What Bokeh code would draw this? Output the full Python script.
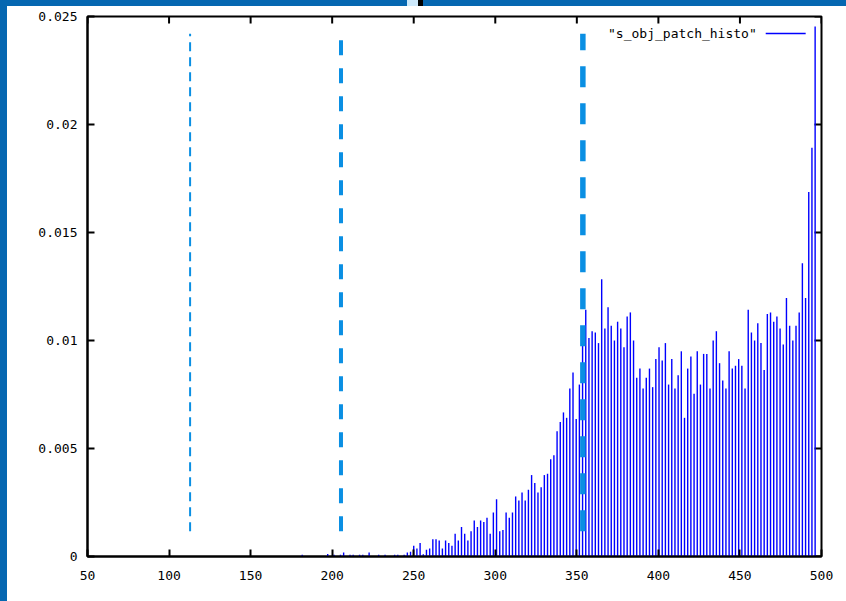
from bokeh.plotting import figure
from bokeh.models import Range1d, FixedTicker, Label, Div
from bokeh.layouts import column, row
from bokeh.embed import file_html
from bokeh.resources import INLINE

# ---------------- data ----------------
BIN_WIDTH = 500 / 256
bin_index = list(range(93, 255))
freq = [
    0.00008, 0, 0, 0, 0, 0, 0, 0,            # 93-100
    0.00012, 0, 0.00008, 0, 0.00008, 0.00019, 0, 0.00008, 0.00008, 0,   # 101-110
    0.00008, 0.00008, 0, 0.00019, 0, 0, 0.00008, 0, 0.00008, 0,         # 111-120
    0, 0.00008, 0.00008, 0, 0.00008, 0.00019, 0.00022, 0.0005, 0.00037, 0.00062,  # 121-130
    0.0001, 0.00031, 0.00037, 0.0008, 0.0008, 0.00074, 0.00037, 0.00074, 0.00062, 0.0005,  # 131-140
    0.00105, 0.00074, 0.00136, 0.00105, 0.00074, 0.00117, 0.00167, 0.00136, 0.00167, 0.0016,  # 141-150
    0.00179, 0.00105, 0.00204, 0.00265, 0.00117, 0.00123, 0.00204, 0.00179, 0.00204, 0.00278,  # 151-160
    0.00259, 0.00296, 0.00259, 0.00309, 0.00377, 0.0034, 0.00296, 0.00321, 0.00377, 0.00383,  # 161-170
    0.0045, 0.00469, 0.0058, 0.00623, 0.00667, 0.00642, 0.00778, 0.00852, 0.00636, 0.00796,  # 171-180
    0.00975, 0.01142, 0.01012, 0.01043, 0.01037, 0.00988, 0.01284, 0.01056, 0.01154, 0.01068,  # 181-190
    0.01, 0.01087, 0.01056, 0.00969, 0.01111, 0.0113, 0.01, 0.00827, 0.0087, 0.00778,  # 191-200
    0.00827, 0.0087, 0.00784, 0.00914, 0.00969, 0.00907, 0.00988, 0.00796, 0.00914, 0.00778,  # 201-210
    0.00839, 0.0095, 0.00642, 0.0087, 0.00926, 0.00753, 0.0095, 0.00796, 0.00938, 0.00938,  # 211-220
    0.00778, 0.01, 0.01043, 0.00895, 0.00815, 0.00778, 0.0095, 0.0087, 0.00883, 0.00914,  # 221-230
    0.00883, 0.00778, 0.01142, 0.01037, 0.01, 0.0108, 0.00988, 0.00864, 0.01123, 0.0113,  # 231-240
    0.01087, 0.01111, 0.01056, 0.00981, 0.01197, 0.01068, 0.01, 0.01068, 0.0113, 0.01358,  # 241-250
    0.01197, 0.01687, 0.01892, 0.02454,  # 251-254
]
bin_x = [k * BIN_WIDTH for k in bin_index]

thresholds = [112.9, 205.4, 353.7]
threshold_low = 0.00117
threshold_high = 0.0242

x_ticks = [50, 100, 150, 200, 250, 300, 350, 400, 450, 500]
y_ticks = [0, 0.005, 0.01, 0.015, 0.02, 0.025]
y_tick_labels = ["0", "0.005", "0.01", "0.015", "0.02", "0.025"]
series_name = '"s_obj_patch_histo"'

X_MIN, X_MAX = 50, 500
Y_MIN, Y_MAX = 0, 0.025

# ---------------- style ----------------
FRAME_BLUE = "#0567b1"
DASH_BLUE = "#0a8fe3"
BAR_BLUE = "#0000ff"
FONT = "DejaVu Sans Mono"
dash_widths = [2, 4, 5.5]
dash_patterns = ["9 6", "15 13", "21 16"]
TICK_PX = 7

FRAME_W, FRAME_H = 734, 540

p = figure(width=839, height=595, output_backend="svg", toolbar_location=None,
           x_range=Range1d(X_MIN, X_MAX), y_range=Range1d(Y_MIN, Y_MAX),
           min_border_left=80, min_border_right=25, min_border_top=10, min_border_bottom=45,
           background_fill_color="white", border_fill_color="white")
p.xgrid.visible = False
p.ygrid.visible = False
p.outline_line_color = "black"
p.outline_line_width = 2

def style_axis(ax, ticks):
    ax.ticker = FixedTicker(ticks=ticks)
    ax.major_tick_in = TICK_PX
    ax.major_tick_out = 0
    ax.minor_tick_line_color = None
    ax.major_tick_line_width = 2
    ax.major_tick_line_color = "black"
    ax.axis_line_width = 2
    ax.axis_line_color = "black"
    ax.major_label_text_font = FONT
    ax.major_label_text_font_size = "13px"
    ax.major_label_text_color = "black"

style_axis(p.xaxis[0], x_ticks)
p.xaxis[0].major_label_standoff = 14
style_axis(p.yaxis[0], y_ticks)
p.yaxis[0].major_label_standoff = 10
p.yaxis[0].major_label_overrides = {t: s for t, s in zip(y_ticks, y_tick_labels)}

# mirrored inward ticks on the top and right edges
dx = TICK_PX * (X_MAX - X_MIN) / FRAME_W
dy = TICK_PX * (Y_MAX - Y_MIN) / FRAME_H
p.segment(x0=x_ticks, y0=[Y_MAX] * len(x_ticks), x1=x_ticks, y1=[Y_MAX - dy] * len(x_ticks),
          line_color="black", line_width=2)
p.segment(x0=[X_MAX] * len(y_ticks), y0=y_ticks, x1=[X_MAX - dx] * len(y_ticks), y1=y_ticks,
          line_color="black", line_width=2)

# impulses
p.segment(x0=bin_x, y0=[0] * len(bin_x), x1=bin_x, y1=freq,
          line_color=BAR_BLUE, line_width=1.4)

# dashed threshold lines
for xv, w, d in zip(thresholds, dash_widths, dash_patterns):
    p.segment(x0=[xv], y0=[threshold_low], x1=[xv], y1=[threshold_high],
              line_color=DASH_BLUE, line_width=w, line_dash=d)

# gnuplot-style key (text then sample line)
key_y = 0.02421
p.add_layout(Label(x=460.3, y=key_y, text=series_name, text_align="right",
                   text_baseline="middle", text_font=FONT, text_font_size="13px",
                   text_color="black"))
p.segment(x0=[465.8], y0=[key_y], x1=[490.3], y1=[key_y], line_color=BAR_BLUE, line_width=1.4)

def block(w, h, c):
    return Div(width=w, height=h, margin=0, styles={"background-color": c})

top_band = row(block(407, 6, FRAME_BLUE), block(11, 6, "#cde9fb"), block(5, 6, "black"),
               block(423, 6, FRAME_BLUE), spacing=0, margin=0)
body = row(block(7, 595, FRAME_BLUE), p, spacing=0, margin=0)
page = column(top_band, body, spacing=0, margin=0)

open("out.html", "w").write(file_html(page, INLINE))
